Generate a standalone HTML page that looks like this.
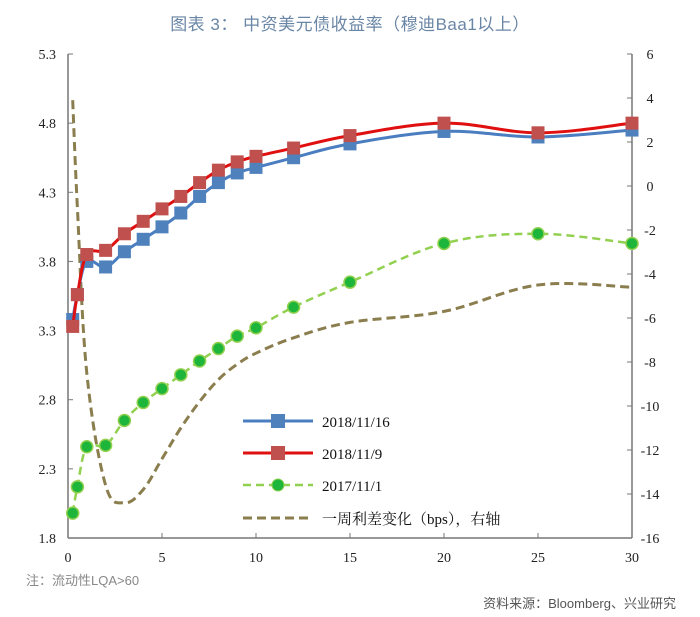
<!DOCTYPE html>
<html><head><meta charset="utf-8"><style>
body{margin:0;background:#fff;width:700px;height:617px;overflow:hidden;font-family:"Liberation Sans","Noto Sans CJK SC",sans-serif}
#title{position:absolute;top:10px;left:0;width:700px;text-align:center;font-size:17px;color:#6a86a6;letter-spacing:0.5px}
.note{position:absolute;font-size:13px;color:#888}
svg{position:absolute;left:0;top:0}
</style></head><body>
<div id="title">图表 3： 中资美元债收益率（穆迪Baa1以上）</div>
<div class="note" style="left:26px;top:570px">注：流动性LQA&gt;60</div>
<div class="note" style="right:24px;top:593px;color:#555">资料来源：Bloomberg、兴业研究</div>
<svg id="c" width="700" height="617"></svg>
<script>
const tenors=[0.25,0.5,1,2,3,4,5,6,7,8,9,10,12,15,20,25,30];
const blue=[3.38,3.56,3.80,3.76,3.87,3.96,4.05,4.15,4.27,4.37,4.44,4.48,4.55,4.65,4.74,4.70,4.75];
const red=[3.33,3.56,3.85,3.88,4.00,4.09,4.18,4.27,4.37,4.46,4.52,4.56,4.62,4.71,4.80,4.73,4.80];
const green=[1.98,2.17,2.46,2.47,2.65,2.78,2.88,2.98,3.08,3.17,3.26,3.32,3.47,3.65,3.93,4.00,3.93];
const spread=[3.9,-1.0,-8.5,-13.6,-14.4,-13.8,-12.4,-11.0,-9.8,-8.8,-8.1,-7.6,-6.9,-6.2,-5.7,-4.5,-4.6];
const leftTicks=["1.8","2.3","2.8","3.3","3.8","4.3","4.8","5.3"];
const rightTicks=["-16","-14","-12","-10","-8","-6","-4","-2","0","2","4","6"];
const xTicks=["0","5","10","15","20","25","30"];
const legendLabels=["2018/11/16","2018/11/9","2017/11/1","一周利差变化（bps），右轴"];

const NS="http://www.w3.org/2000/svg",svg=document.getElementById('c');
const X0=68,X1=632,YT=54,YB=538;
const x=v=>X0+(v/30)*(X1-X0);
const yl=v=>YB-(v-1.8)/3.5*(YB-YT);
const yr=v=>YB-(v+16)/22*(YB-YT);
function el(t,a,p){const e=document.createElementNS(NS,t);for(const k in a)e.setAttribute(k,a[k]);(p||svg).appendChild(e);return e;}
function spline(pts){let d=`M${pts[0][0]},${pts[0][1]}`;for(let i=0;i<pts.length-1;i++){const p0=pts[i-1]||pts[i],p1=pts[i],p2=pts[i+1],p3=pts[i+2]||p2;const t=0.35;
const c1=[p1[0]+(p2[0]-p0[0])*t/2*1,p1[1]+(p2[1]-p0[1])*t/2];const c2=[p2[0]-(p3[0]-p1[0])*t/2,p2[1]-(p3[1]-p1[1])*t/2];
d+=`C${c1[0]},${c1[1]} ${c2[0]},${c2[1]} ${p2[0]},${p2[1]}`;}return d;}
const sans='"Liberation Serif","Noto Serif CJK SC",serif';
// axes
let a=el('line',{x1:X0,y1:YT,x2:X0,y2:YB,stroke:'#777','stroke-width':1.5});
a=el('line',{x1:X1,y1:YT,x2:X1,y2:YB,stroke:'#777','stroke-width':1.5});
a=el('line',{x1:X0,y1:YB,x2:X1,y2:YB,stroke:'#777','stroke-width':1.5});
leftTicks.forEach(t=>{const yy=yl(+t);el('line',{x1:X0,y1:yy,x2:X0+5,y2:yy,stroke:'#777'});
const tx=el('text',{x:X0-12,y:yy+5,'text-anchor':'end','font-size':14,'font-family':sans,fill:'#222'});tx.textContent=t;
});
rightTicks.forEach(t=>{const yy=yr(+t);el('line',{x1:X1-5,y1:yy,x2:X1,y2:yy,stroke:'#777'});
const tx=el('text',{x:X1+18,y:yy+5,'text-anchor':'middle','font-size':14,'font-family':sans,fill:'#222'});tx.textContent=t;
});
xTicks.forEach(t=>{const xx=x(+t);el('line',{x1:xx,y1:YB-5,x2:xx,y2:YB,stroke:'#777'});
const tx=el('text',{x:xx,y:YB+24,'text-anchor':'middle','font-size':14,'font-family':sans,fill:'#222'});tx.textContent=t;
});
// series
let p=el('path',{d:spline(tenors.map((t,i)=>[x(t),yr(spread[i])])),fill:'none',stroke:'#8b7e4e','stroke-width':3,'stroke-dasharray':'9,5'});

p=el('path',{d:spline(tenors.map((t,i)=>[x(t),yl(green[i])])),fill:'none',stroke:'#92d050','stroke-width':2.5,'stroke-dasharray':'8,5'});

tenors.forEach((t,i)=>{const c=el('circle',{cx:x(t),cy:yl(green[i]),r:6,fill:'#1db53a',stroke:'#92d050','stroke-width':1.5});
});
p=el('path',{d:spline(tenors.map((t,i)=>[x(t),yl(blue[i])])),fill:'none',stroke:'#4a7ec0','stroke-width':3});

tenors.forEach((t,i)=>{const r=el('rect',{x:x(t)-6.5,y:yl(blue[i])-6.5,width:13,height:13,fill:'#4f81bd'});
});
p=el('path',{d:spline(tenors.map((t,i)=>[x(t),yl(red[i])])),fill:'none',stroke:'#e01010','stroke-width':3});

tenors.forEach((t,i)=>{const r=el('rect',{x:x(t)-6.5,y:yl(red[i])-6.5,width:13,height:13,fill:'#c0504d'});
});
// legend
const ly=[421,453,485,518];
const g=el('g',{});
el('line',{x1:243,y1:ly[0],x2:313,y2:ly[0],stroke:'#4a7ec0','stroke-width':3},g);el('rect',{x:271,y:ly[0]-7,width:14,height:14,fill:'#4f81bd'},g);
el('line',{x1:243,y1:ly[1],x2:313,y2:ly[1],stroke:'#e01010','stroke-width':3},g);el('rect',{x:271,y:ly[1]-7,width:14,height:14,fill:'#c0504d'},g);
el('line',{x1:243,y1:ly[2],x2:313,y2:ly[2],stroke:'#92d050','stroke-width':2.5,'stroke-dasharray':'8,5'},g);el('circle',{cx:278,cy:ly[2],r:6,fill:'#1db53a',stroke:'#92d050'},g);
el('line',{x1:243,y1:ly[3],x2:313,y2:ly[3],stroke:'#8b7e4e','stroke-width':3,'stroke-dasharray':'9,5'},g);
legendLabels.forEach((s,i)=>{const t=el('text',{x:322,y:ly[i]+6,'font-size':15,'font-family':sans,fill:'#111'},g);t.textContent=s;
});
</script>
</body></html>
